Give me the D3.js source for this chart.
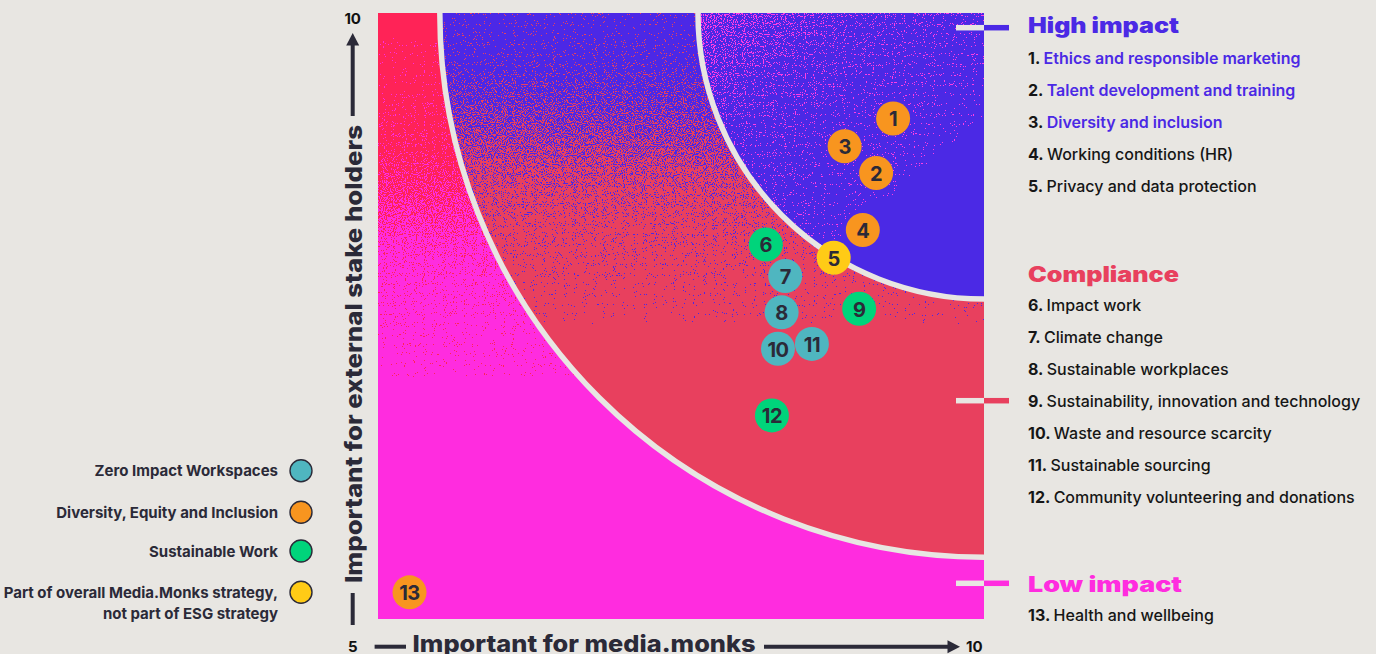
<!DOCTYPE html>
<html><head><meta charset="utf-8">
<script src="https://cdn.jsdelivr.net/npm/d3@7/dist/d3.min.js"></script>
<style>
html,body{margin:0;padding:0;background:#e8e6e2;overflow:hidden;}
svg{display:block;}
</style></head><body>
<svg id="chart" width="1376" height="654"></svg>
<script>
// ---------- data ----------
const itemIds = [1,2,3,4,5,6,7,8,9,10,11,12,13];
const itemLabels = [
  "Ethics and responsible marketing",
  "Talent development and training",
  "Diversity and inclusion",
  "Working conditions (HR)",
  "Privacy and data protection",
  "Impact work",
  "Climate change",
  "Sustainable workplaces",
  "Sustainability, innovation and technology",
  "Waste and resource scarcity",
  "Sustainable sourcing",
  "Community volunteering and donations",
  "Health and wellbeing"
];
const xValues = [9.25, 9.11, 8.85, 9.00, 8.76, 8.20, 8.36, 8.33, 8.97, 8.30, 8.58, 8.25, 5.26];
const yValues = [9.13, 8.68, 8.90, 8.21, 7.98, 8.09, 7.83, 7.53, 7.56, 7.23, 7.27, 6.68, 5.22];
const itemGroup = [1,1,1,1,3,2,0,0,2,0,0,2,1];
const itemZone  = [0,0,0,0,0,1,1,1,1,1,1,1,2];
const highlightedItems = [1,2,3];

const groupNames = [
  ["Zero Impact Workspaces"],
  ["Diversity, Equity and Inclusion"],
  ["Sustainable Work"],
  ["Part of overall Media.Monks strategy,", "not part of ESG strategy"]
];
const groupColors = ["#4fb6c0", "#f8951f", "#00d47b", "#ffcb16"];

const zoneNames = ["High impact", "Compliance", "Low impact"];
const zoneColors = ["#4b29e5", "#e8405e", "#ff2cdf"];
const zoneRadii = [2.36, 4.49];        // distance from corner (10,10), in axis units
const axisDomain = [5, 10];
const axisTickLabels = ["5", "10"];
const xTitle = "Important for media.monks";
const yTitle = "Important for external stake holders";

// ---------- layout ----------
const W = 1376, H = 654;
const P = {left: 378, right: 984, top: 13, bottom: 619};
const BG = "#e8e6e2", INK = "#2b2a38";
const svg = d3.select("#chart");
const defs = svg.append("defs");

const x = d3.scaleLinear().domain(axisDomain).range([P.left, P.right]);
const y = d3.scaleLinear().domain(axisDomain).range([P.bottom, P.top]);
const rPx = v => x(axisDomain[0] + v) - x(axisDomain[0]);

svg.append("rect").attr("width", W).attr("height", H).attr("fill", BG);

// ---------- grain / dither filters ----------
function dither(id, colA, colB, seed, freq) {
  const a = d3.rgb(colA), b = d3.rgb(colB);
  const f = defs.append("filter").attr("id", id)
    .attr("filterUnits", "userSpaceOnUse")
    .attr("x", P.left).attr("y", P.top).attr("width", P.right - P.left).attr("height", P.bottom - P.top)
    .attr("color-interpolation-filters", "sRGB");
  f.append("feTurbulence").attr("type", "fractalNoise").attr("baseFrequency", freq)
    .attr("numOctaves", 1).attr("seed", seed).attr("result", "noise");
  f.append("feColorMatrix").attr("in", "noise").attr("type", "matrix")
    .attr("values", "1 0 0 0 0  1 0 0 0 0  1 0 0 0 0  0 0 0 0 1").attr("result", "gray0");
  const st = f.append("feComponentTransfer").attr("in", "gray0").attr("result", "gray");
  st.append("feFuncR").attr("type", "linear").attr("slope", 2.5).attr("intercept", -0.75);
  f.append("feComposite").attr("in", "SourceGraphic").attr("in2", "gray").attr("operator", "arithmetic")
    .attr("k1", 0).attr("k2", 1.04).attr("k3", 1).attr("k4", -0.52).attr("result", "sum");
  const ct = f.append("feComponentTransfer").attr("in", "sum").attr("result", "mask");
  ct.append("feFuncR").attr("type", "discrete").attr("tableValues", "0 1");
  ct.append("feFuncA").attr("type", "linear").attr("slope", 0).attr("intercept", 1);
  const m = (ca, cb) => `${(ca - cb) / 255} 0 0 0 ${cb / 255}`;
  f.append("feColorMatrix").attr("in", "mask").attr("type", "matrix")
    .attr("values", `${m(a.r, b.r)}  ${m(a.g, b.g)}  ${m(a.b, b.b)}  0 0 0 0 1`).attr("result", "col");
  f.append("feComposite").attr("in", "col").attr("in2", "SourceAlpha").attr("operator", "in");
}
function grayGrad(id, x1, y1, x2, y2, stops) {
  const g = defs.append("linearGradient").attr("id", id).attr("gradientUnits", "userSpaceOnUse")
    .attr("x1", x1).attr("y1", y1).attr("x2", x2).attr("y2", y2);
  stops.forEach(([o, t]) => {
    const v = Math.round(t * 255);
    g.append("stop").attr("offset", o).attr("stop-color", `rgb(${v},${v},${v})`);
  });
}
// vertical gradient helper: stops given as [pixel y, share of colour A]
function vGrad(id, pts) {
  const y0 = pts[0][0], y1 = pts[pts.length - 1][0];
  grayGrad(id, 0, y0, 0, y1, pts.map(([py, t]) => [(py - y0) / (y1 - y0), t]));
}

dither("dLow", "#ff2357", zoneColors[2], 3, 0.9);
dither("dMid", "#4c28e6", zoneColors[1], 7, 0.9);
dither("dHigh", "#ff3ce4", zoneColors[0], 11, 0.9);

vGrad("gLow", [[13, 1], [90, 0.95], [150, 0.8], [205, 0.5], [260, 0.2], [330, 0.05], [400, 0]]);
vGrad("gMid", [[13, 0.97], [55, 0.9], [115, 0.6], [170, 0.35], [215, 0.2], [260, 0.1], [300, 0.04], [340, 0]]);
grayGrad("gHigh", 700, 13, 880, 230, [[0, 0.42], [0.4, 0.15], [1, 0]]);

defs.append("clipPath").attr("id", "plotClip").append("rect")
  .attr("x", P.left).attr("y", P.top).attr("width", P.right - P.left).attr("height", P.bottom - P.top);

// ---------- zones ----------
const zones = svg.append("g").attr("clip-path", "url(#plotClip)");
const cx = x(axisDomain[1]), cy = y(axisDomain[1]);
zones.append("rect").attr("x", P.left).attr("y", P.top)
  .attr("width", P.right - P.left).attr("height", P.bottom - P.top)
  .attr("fill", "url(#gLow)").attr("filter", "url(#dLow)");
zones.append("circle").attr("cx", cx).attr("cy", cy).attr("r", rPx(zoneRadii[1]))
  .attr("fill", "url(#gMid)").attr("filter", "url(#dMid)");
zones.append("circle").attr("cx", cx).attr("cy", cy).attr("r", rPx(zoneRadii[0]))
  .attr("fill", "url(#gHigh)").attr("filter", "url(#dHigh)");
zones.selectAll("circle.sep").data(zoneRadii).join("circle").attr("class", "sep")
  .attr("cx", cx).attr("cy", cy).attr("r", d => rPx(d))
  .attr("fill", "none").attr("stroke", BG).attr("stroke-width", 5.5);

// ---------- axes ----------
const axisG = svg.append("g").attr("fill", INK).attr("stroke", INK);
const axX = 352.7;
// y axis
axisG.append("line").attr("x1", axX).attr("x2", axX).attr("y1", 116).attr("y2", 44).attr("stroke-width", 4);
axisG.append("path").attr("stroke", "none").attr("d", `M${axX},33 L${axX - 6.5},45.5 L${axX + 6.5},45.5 Z`);
axisG.append("line").attr("x1", axX).attr("x2", axX).attr("y1", 593).attr("y2", 625).attr("stroke-width", 4);
svg.append("text").attr("transform", `translate(362,${(125 + 583) / 2}) rotate(-90)`)
  .attr("text-anchor", "middle").attr("font-family", "Inter, Roboto, sans-serif").attr("font-weight", 800)
  .attr("font-size", 23.5).attr("fill", INK).attr("textLength", 458).attr("lengthAdjust", "spacingAndGlyphs")
  .text(yTitle);
// x axis
const axY = 646.7;
axisG.append("line").attr("x1", 374.6).attr("x2", 406).attr("y1", axY).attr("y2", axY).attr("stroke-width", 4);
axisG.append("line").attr("x1", 764).attr("x2", 949).attr("y1", axY).attr("y2", axY).attr("stroke-width", 4);
axisG.append("path").attr("stroke", "none").attr("d", `M960,${axY} L947.5,${axY - 6.5} L947.5,${axY + 6.5} Z`);
svg.append("text").attr("x", 412.6).attr("y", 651.5)
  .attr("font-family", "Inter, Roboto, sans-serif").attr("font-weight", 800)
  .attr("font-size", 23.5).attr("fill", INK).attr("textLength", 343).attr("lengthAdjust", "spacingAndGlyphs")
  .text(xTitle);
// tick labels
const tickStyle = s => s.attr("font-family", "Inter, Roboto, sans-serif").attr("font-weight", 700)
  .attr("font-size", 15).attr("fill", "#111").attr("dominant-baseline", "central");
svg.append("text").call(tickStyle).attr("x", axX).attr("y", 18.5).attr("text-anchor", "middle").text(axisTickLabels[1]);
svg.append("text").call(tickStyle).attr("x", axX).attr("y", 646).attr("text-anchor", "middle").text(axisTickLabels[0]);
svg.append("text").call(tickStyle).attr("x", 966).attr("y", 646).attr("text-anchor", "start").text(axisTickLabels[1]);

// ---------- points ----------
const pts = itemIds.map((id, i) => ({id, x: xValues[i], y: yValues[i], g: itemGroup[i]}));
const pg = svg.append("g").selectAll("g").data(pts).join("g")
  .attr("transform", d => `translate(${x(d.x)},${y(d.y)})`);
pg.append("circle").attr("r", 17).attr("fill", d => groupColors[d.g]);
pg.append("text").attr("text-anchor", "middle").attr("dominant-baseline", "central").attr("dy", 1)
  .attr("font-family", "Inter, Roboto, sans-serif").attr("font-weight", 700).attr("font-size", 20)
  .attr("letter-spacing", -0.5).attr("fill", INK).text(d => d.id);

// ---------- left legend ----------
const legY = [470.7, 512.3, 551, 592.3];
const lg = svg.append("g").selectAll("g").data(groupNames).join("g");
lg.append("circle").attr("cx", 301).attr("cy", (d, i) => legY[i]).attr("r", 11)
  .attr("fill", (d, i) => groupColors[i]).attr("stroke", INK).attr("stroke-width", 1.4);
lg.each(function (lines, i) {
  const t = d3.select(this).append("text").attr("text-anchor", "end")
    .attr("font-family", "Inter, Roboto, sans-serif").attr("font-weight", 700).attr("font-size", 15).attr("fill", INK);
  lines.forEach((ln, j) => t.append("tspan").attr("x", 278)
    .attr("y", legY[i] + 5.5 + j * 21 + (lines.length > 1 ? 0.5 : 0)).text(ln));
});

// ---------- right legend ----------
const RX = 1028;
const headBase = [33.3, 281.5, 591.5];
const firstItemCenter = [58, 305, 615];
const markerY = [27.7, 400.7, 583.3];
const rg = svg.append("g");
zoneNames.forEach((name, z) => {
  rg.append("line").attr("x1", 956).attr("x2", P.right).attr("y1", markerY[z]).attr("y2", markerY[z])
    .attr("stroke", BG).attr("stroke-width", 5.5);
  rg.append("line").attr("x1", P.right).attr("x2", 1009).attr("y1", markerY[z]).attr("y2", markerY[z])
    .attr("stroke", zoneColors[z]).attr("stroke-width", 5.5);
  rg.append("text").attr("x", RX).attr("y", headBase[z])
    .attr("font-family", "Inter, Roboto, sans-serif").attr("font-weight", 900).attr("font-size", 21)
    .attr("fill", zoneColors[z]).attr("textLength", z === 2 ? 154 : 151).attr("lengthAdjust", "spacingAndGlyphs")
    .text(name);
  const ids = itemIds.filter((id, i) => itemZone[i] === z);
  ids.forEach((id, k) => {
    const t = rg.append("text").attr("x", RX).attr("y", firstItemCenter[z] + k * 32 + 5.7)
      .attr("font-family", "Inter, Roboto, sans-serif").attr("font-size", 16).attr("fill", "#161616");
    t.append("tspan").attr("font-weight", 700).text(id + ". ");
    const hl = highlightedItems.includes(id);
    t.append("tspan").attr("font-weight", hl ? 600 : 500).attr("fill", hl ? zoneColors[0] : "#161616")
      .text(itemLabels[id - 1]);
  });
});
</script>
</body></html>
